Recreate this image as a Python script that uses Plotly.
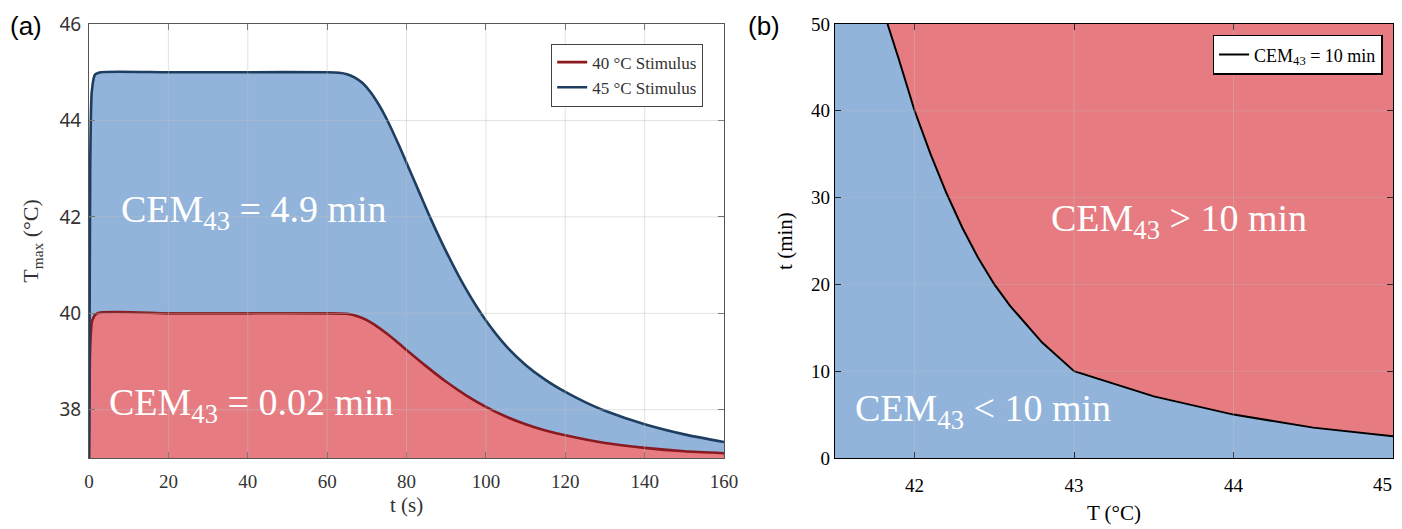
import plotly.graph_objects as go

# ---------------- data: panel (a) ----------------
t_45 = [0, 0.3, 0.7, 1.5, 3, 20, 40, 60, 63, 65, 67, 69, 71, 73, 75, 78, 80, 83, 86, 90, 95, 100, 105, 110, 115, 120, 125, 130, 140, 150, 160]
T_45 = [37, 43.0, 44.6, 44.95, 45, 45, 45, 45, 44.99, 44.96, 44.89, 44.77, 44.58, 44.33, 44.03, 43.5, 43.12, 42.55, 41.98, 41.28, 40.5, 39.85, 39.33, 38.93, 38.62, 38.37, 38.16, 37.98, 37.7, 37.49, 37.33]
t_40 = [0, 0.3, 0.8, 2, 20, 40, 60, 65, 68, 70, 72, 75, 78, 80, 85, 90, 95, 100, 105, 110, 115, 120, 130, 140, 150, 160]
T_40 = [37, 39.3, 39.85, 40, 40, 40, 40, 39.99, 39.93, 39.86, 39.76, 39.58, 39.38, 39.24, 38.9, 38.58, 38.3, 38.06, 37.86, 37.7, 37.57, 37.47, 37.31, 37.21, 37.14, 37.1]

# ---------------- data: panel (b) ----------------
T_b = [41.83, 41.9, 42.0, 42.1, 42.2, 42.3, 42.4, 42.5, 42.6, 42.8, 43.0, 43.5, 44.0, 44.5, 45.0]
t_b = [50, 46, 40, 35, 30.5, 26.5, 23, 20, 17.5, 13.3, 10, 7.1, 5.0, 3.5, 2.5]

xa_ticks = [0, 20, 40, 60, 80, 100, 120, 140, 160]
ya_ticks = [38, 40, 42, 44, 46]
xb_ticks = [42, 43, 44, 45]
xb_labels = ["42", "43", "44", "45"]
yb_ticks = [0, 10, 20, 30, 40, 50]
xa_range = [0, 160]
ya_range = [37, 46]
xb_range = [41.5, 45]
yb_range = [0, 50]

BLUE_FILL = "#92b4db"
RED_FILL = "#e67c81"
BLUE_LINE = "#1e3d5f"
RED_LINE = "#8a1a1f"
SERIF = "Liberation Serif"

fig = go.Figure()

# panel (a) fills
fig.add_trace(go.Scatter(x=t_45, y=T_45, mode="lines", line=dict(width=0, color=BLUE_FILL, shape="spline", smoothing=0.6),
                         fill="tozeroy", fillcolor=BLUE_FILL, showlegend=False, hoverinfo="skip",
                         xaxis="x", yaxis="y"))
fig.add_trace(go.Scatter(x=t_40, y=T_40, mode="lines", line=dict(width=0, color=RED_FILL, shape="spline", smoothing=0.6),
                         fill="tozeroy", fillcolor=RED_FILL, showlegend=False, hoverinfo="skip",
                         xaxis="x", yaxis="y"))
# panel (a) lines
fig.add_trace(go.Scatter(x=t_40, y=T_40, mode="lines", line=dict(width=2.6, color=RED_LINE, shape="spline", smoothing=0.6),
                         name="40 °C Stimulus", legend="legend", xaxis="x", yaxis="y"))
fig.add_trace(go.Scatter(x=t_45, y=T_45, mode="lines", line=dict(width=2.6, color=BLUE_LINE, shape="spline", smoothing=0.6),
                         name="45 °C Stimulus", legend="legend", xaxis="x", yaxis="y"))

# panel (b) regions
fig.add_trace(go.Scatter(x=xb_range, y=[yb_range[1], yb_range[1]], mode="lines",
                         line=dict(width=0, color=RED_FILL), fill="tozeroy", fillcolor=RED_FILL,
                         showlegend=False, hoverinfo="skip", xaxis="x2", yaxis="y2"))
fig.add_trace(go.Scatter(x=[xb_range[0]] + T_b, y=[yb_range[1]] + t_b, mode="lines",
                         line=dict(width=0, color=BLUE_FILL), fill="tozeroy", fillcolor=BLUE_FILL,
                         showlegend=False, hoverinfo="skip", xaxis="x2", yaxis="y2"))
fig.add_trace(go.Scatter(x=T_b, y=t_b, mode="lines", line=dict(width=2, color="black"),
                         name="CEM<sub>43</sub> = 10 min", legend="legend2", xaxis="x2", yaxis="y2"))

# grid lines drawn above the fills (MATLAB-style layer top)
shapes = []
for v in xa_ticks[1:-1]:
    shapes.append(dict(type="line", xref="x", yref="y domain", x0=v, x1=v, y0=0, y1=1,
                       line=dict(color="rgba(190,190,190,0.45)", width=1), layer="above"))
for v in ya_ticks[:-1]:
    shapes.append(dict(type="line", xref="x domain", yref="y", x0=0, x1=1, y0=v, y1=v,
                       line=dict(color="rgba(190,190,190,0.45)", width=1), layer="above"))
for v in xb_ticks[:-1]:
    shapes.append(dict(type="line", xref="x2", yref="y2 domain", x0=v, x1=v, y0=0, y1=1,
                       line=dict(color="rgba(200,200,200,0.35)", width=1), layer="above"))
for v in yb_ticks[1:-1]:
    shapes.append(dict(type="line", xref="x2 domain", yref="y2", x0=0, x1=1, y0=v, y1=v,
                       line=dict(color="rgba(200,200,200,0.25)", width=1), layer="above"))

ann_font = dict(family=SERIF, size=38, color="white")
annotations = [
    dict(text="(a)", xref="paper", yref="paper", x=-0.062, y=1.034, xanchor="left", yanchor="top",
         showarrow=False, font=dict(family="Liberation Sans", size=26, color="black")),
    dict(text="(b)", xref="paper", yref="paper", x=0.504, y=1.034, xanchor="left", yanchor="top",
         showarrow=False, font=dict(family="Liberation Sans", size=26, color="black")),
    dict(text="CEM<sub>43</sub> = 4.9 min", xref="x", yref="y", x=41.5, y=42.1, xanchor="center",
         showarrow=False, font=ann_font),
    dict(text="CEM<sub>43</sub> = 0.02 min", xref="x", yref="y", x=41, y=38.1, xanchor="center",
         showarrow=False, font=ann_font),
    dict(text="CEM<sub>43</sub> > 10 min", xref="x2", yref="y2", x=43.66, y=27.3, xanchor="center",
         showarrow=False, font=ann_font),
    dict(text="CEM<sub>43</sub> < 10 min", xref="x2", yref="y2", x=42.43, y=5.4, xanchor="center",
         showarrow=False, font=ann_font),
    # last x tick label of panel (b), nudged left so it stays inside the page
    dict(text=xb_labels[-1], xref="x2", yref="y2 domain", x=xb_ticks[-1], y=0, yanchor="top",
         xanchor="center", xshift=-10, yshift=-14, showarrow=False,
         font=dict(family=SERIF, size=19, color="black")),
]

axis_common = dict(showline=True, linecolor="#555555", linewidth=1, mirror="ticks", ticks="inside",
                   ticklen=6, tickcolor="#555555", zeroline=False, showgrid=False, automargin=False)
axis_b = dict(showline=True, linecolor="black", linewidth=1.2, mirror="ticks", ticks="inside",
              ticklen=6, tickcolor="black", zeroline=False, showgrid=False, automargin=False)

# page body adds an 8px margin, so the figure is 8px smaller and shifted
fig.update_layout(
    width=1394, height=521,
    margin=dict(l=81, r=9, t=16, b=71),
    paper_bgcolor="white", plot_bgcolor="white",
    shapes=shapes, annotations=annotations,
    xaxis=dict(domain=[0, 0.487], range=xa_range, tickvals=xa_ticks, **axis_common,
               ticklabelstandoff=6,
               tickfont=dict(family=SERIF, size=19, color="#333333"),
               title=dict(text="t (s)", font=dict(family=SERIF, size=21, color="#333333"), standoff=6)),
    yaxis=dict(domain=[0, 1], range=ya_range, tickvals=ya_ticks, **axis_common,
               ticklabelstandoff=3,
               tickfont=dict(family="Noto Sans", size=19, color="#333333"),
               title=dict(text="T<sub>max</sub> (°C)", font=dict(family=SERIF, size=22, color="#333333"), standoff=14)),
    xaxis2=dict(domain=[0.572, 1], range=xb_range, tickvals=xb_ticks,
                ticktext=xb_labels[:-1] + [""], **axis_b,
                ticklabelstandoff=10,
                tickfont=dict(family=SERIF, size=19, color="black"),
                title=dict(text="T (°C)", font=dict(family=SERIF, size=21, color="black"), standoff=10)),
    yaxis2=dict(domain=[0, 1], range=yb_range, tickvals=yb_ticks, anchor="x2", **axis_b,
                tickfont=dict(family=SERIF, size=19, color="black"),
                title=dict(text="t (min)", font=dict(family=SERIF, size=21, color="black"), standoff=12)),
    legend=dict(x=0.471, y=0.955, xanchor="right", yanchor="top",
                bgcolor="white", bordercolor="#444444", borderwidth=1,
                font=dict(family=SERIF, size=17, color="#333333"), tracegroupgap=0),
    legend2=dict(x=0.992, y=0.975, xanchor="right", yanchor="top",
                 bgcolor="white", bordercolor="black", borderwidth=1.5,
                 font=dict(family=SERIF, size=18, color="black")),
)

fig.write_html("out.html")
